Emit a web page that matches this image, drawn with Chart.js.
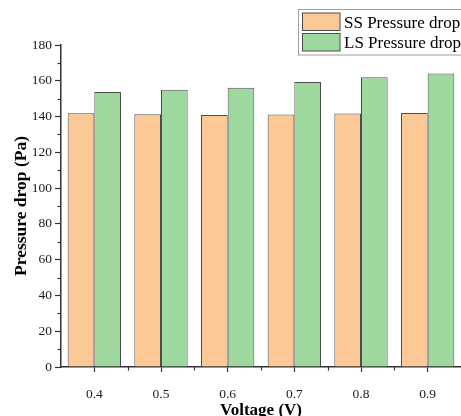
<!DOCTYPE html>
<html>
<head>
<meta charset="utf-8">
<script src="https://cdn.jsdelivr.net/npm/chart.js@4"></script>
<style>
  html, body { margin: 0; padding: 0; background: #fff; }
  #wrap { width: 461px; height: 416px; }
</style>
</head>
<body>
<div id="wrap"><canvas id="pressureChart" width="461" height="416"></canvas></div>
<script>
// Data
const voltages = ['0.4', '0.5', '0.6', '0.7', '0.8', '0.9'];
const ssDrop = [141.9, 141.3, 140.9, 141.1, 141.7, 142.0];
const lsDrop = [153.7, 155.0, 156.1, 159.3, 162.0, 164.1];
const yTicks = [0, 20, 40, 60, 80, 100, 120, 140, 160, 180];

const SERIF = "'Liberation Serif', 'Times New Roman', serif";
const AXIS = '#333333';
const ssColor = '#fcc896';
const lsColor = '#9fd89f';
const edgeColor = '#4d4d4d';

// minor ticks and the boxed legend
const extras = {
    id: 'extras',
    afterDraw(chart) {
        const ctx = chart.ctx;
        const x = chart.scales.x, y = chart.scales.y;
        ctx.save();
        ctx.strokeStyle = AXIS;
        ctx.lineWidth = 1.2;
        // y minor ticks (every 10)
        for (let i = 0; i < yTicks.length - 1; i++) {
            const py = Math.round(y.getPixelForValue((yTicks[i] + yTicks[i + 1]) / 2)) + 0.5;
            ctx.beginPath();
            ctx.moveTo(x.left, py);
            ctx.lineTo(x.left - 3.5, py);
            ctx.stroke();
        }
        // x minor ticks (between categories)
        for (let i = 0; i < voltages.length - 1; i++) {
            const px = Math.round((x.getPixelForValue(i) + x.getPixelForValue(i + 1)) / 2) + 0.5;
            ctx.beginPath();
            ctx.moveTo(px, y.bottom);
            ctx.lineTo(px, y.bottom + 3.5);
            ctx.stroke();
        }

        // legend box
        const sets = chart.data.datasets;
        ctx.strokeStyle = '#a0a0a0';
        ctx.lineWidth = 1;
        ctx.strokeRect(298.5, 9.5, 180, 45.5);
        ctx.font = '17px ' + SERIF;
        ctx.textBaseline = 'alphabetic';
        ctx.textAlign = 'left';
        sets.forEach((ds, i) => {
            const top = 13 + i * 20.5;
            ctx.fillStyle = ds.backgroundColor;
            ctx.fillRect(302.5, top, 37.5, 17.5);
            ctx.strokeStyle = edgeColor;
            ctx.strokeRect(302.5, top, 37.5, 17.5);
            ctx.fillStyle = '#000';
            ctx.fillText(ds.label, 344, 27.7 + i * 20.6);
        });
        ctx.restore();
    }
};

new Chart(document.getElementById('pressureChart'), {
    type: 'bar',
    data: {
        labels: voltages,
        datasets: [{
            label: 'SS Pressure drop',
            data: ssDrop,
            backgroundColor: ssColor,
            borderColor: edgeColor,
            borderWidth: 1,
            categoryPercentage: 0.8,
            barPercentage: 1.0
        }, {
            label: 'LS Pressure drop',
            data: lsDrop,
            backgroundColor: lsColor,
            borderColor: edgeColor,
            borderWidth: 1,
            categoryPercentage: 0.8,
            barPercentage: 1.0
        }]
    },
    options: {
        responsive: false,
        animation: false,
        layout: { padding: { top: 45, right: 0, bottom: 0, left: 0 } },
        plugins: {
            legend: { display: false },
            tooltip: { enabled: false }
        },
        scales: {
            x: {
                offset: true,
                grid: {
                    offset: false,
                    drawOnChartArea: false,
                    drawTicks: true,
                    tickLength: 5,
                    tickWidth: 1.2,
                    tickColor: AXIS
                },
                border: { color: AXIS, width: 1.5 },
                ticks: {
                    color: '#1a1a1a',
                    padding: 14,
                    font: { family: SERIF, size: 13.5 }
                },
                title: {
                    display: true,
                    text: 'Voltage (V)',
                    color: '#000',
                    font: { family: SERIF, size: 17, weight: 'bold', lineHeight: 1 },
                    padding: { top: 0, bottom: -3.5 }
                },
                afterFit(scale) { scale.height = 49; }
            },
            y: {
                min: 0,
                max: 180,
                afterBuildTicks(scale) { scale.ticks = yTicks.map(v => ({ value: v })); },
                grid: {
                    drawOnChartArea: false,
                    drawTicks: true,
                    tickLength: 6,
                    tickWidth: 1.2,
                    tickColor: AXIS
                },
                border: { color: AXIS, width: 1.5 },
                ticks: {
                    color: '#1a1a1a',
                    padding: 3,
                    font: { family: SERIF, size: 13.5 }
                },
                title: {
                    display: true,
                    text: 'Pressure drop (Pa)',
                    color: '#000',
                    font: { family: SERIF, size: 17.5, weight: 'bold', lineHeight: 1 },
                    padding: { top: 13, bottom: 0 }
                },
                afterFit(scale) { scale.width = 61; }
            }
        }
    },
    plugins: [extras]
});
</script>
</body>
</html>
